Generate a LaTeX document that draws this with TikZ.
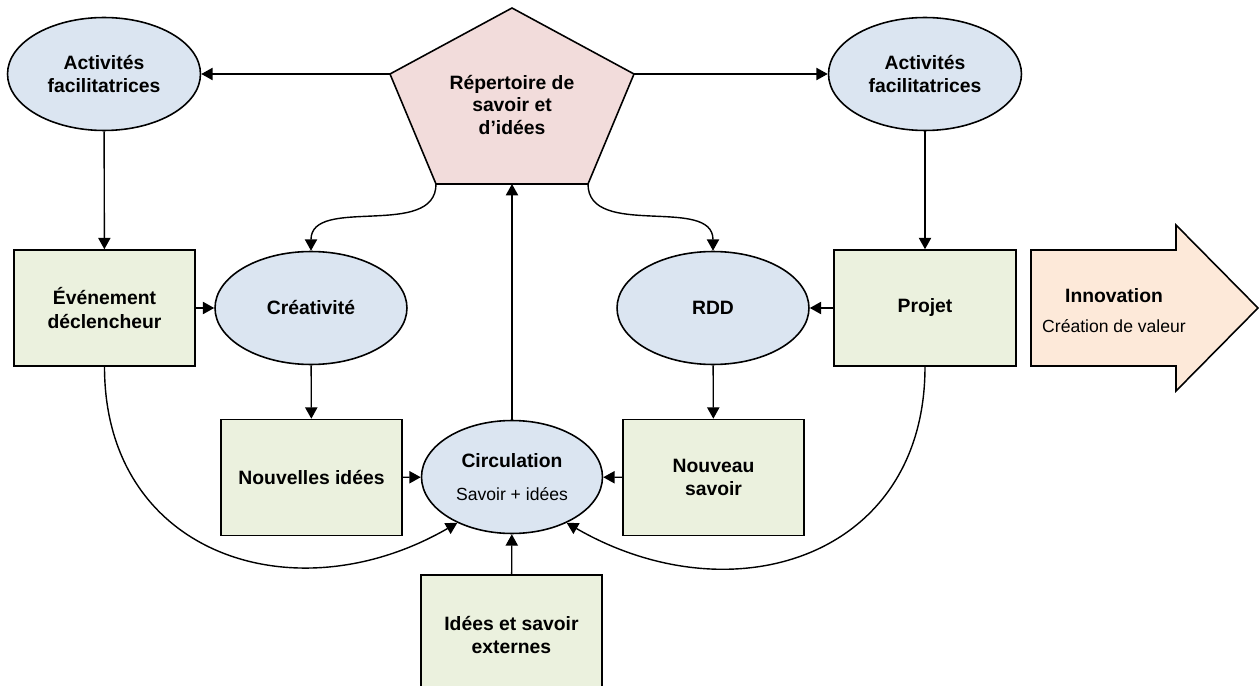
\documentclass[tikz,border=0pt]{standalone}
\usepackage{fontspec}
\setmainfont{Liberation Sans}
\usetikzlibrary{arrows.meta,shapes.geometric}

\definecolor{ovalColor}{RGB}{219,229,241}
\definecolor{blockColor}{RGB}{235,241,222}
\definecolor{repColor}{RGB}{242,220,219}
\definecolor{innovColor}{RGB}{253,233,217}

\tikzset{
  oval/.style={ellipse,draw,fill=ovalColor,line width=.9pt,minimum width=3.86cm,minimum height=2.26cm,
    align=center,font=\fontsize{11}{13.5}\selectfont\bfseries},
  block/.style={rectangle,draw,fill=blockColor,line width=.9pt,minimum width=3.62cm,minimum height=2.32cm,
    align=center,font=\fontsize{11}{13.5}\selectfont\bfseries},
  link/.style={-{Triangle[length=6.5pt,width=7pt]},line width=.8pt},
}

\begin{document}
\begin{tikzpicture}[x=0.02cm,y=-0.02cm]
  \useasboundingbox (0,0) rectangle (1259,686);
  \clip (0,0) rectangle (1259,686);
  % Repertoire
  \coordinate (repT) at (512,8);
  \coordinate (repL) at (390,74);
  \coordinate (repR) at (634,74);
  \coordinate (repBL) at (436,184);
  \coordinate (repBR) at (588,184);
  \coordinate (repB) at (512,184);
  \draw[fill=repColor,line width=.9pt] (repT) -- (repR) -- (repBR) -- (repBL) -- (repL) -- cycle;
  \node[align=center,font=\fontsize{11}{13}\selectfont\bfseries] (rep) at (512,105) {Répertoire de\\savoir et\\d’idées};
  % Ovals
  \node[oval] (act1) at (104,74) {Activités\\facilitatrices};
  \node[oval] (act2) at (925,74) {Activités\\facilitatrices};
  \node[oval,minimum width=3.84cm] (crea) at (311,308) {Créativité};
  \node[oval,minimum width=3.84cm] (rdd) at (713,308) {RDD};
  \node[oval,minimum width=3.62cm] (circ) at (512,477) {Circulation\\[5pt]{\mdseries\fontsize{10}{12}\selectfont Savoir + idées}};
  % Blocks
  \node[block] (evt) at (104.5,308) {Événement\\déclencheur};
  \node[block] (nouvId) at (311.5,477.5) {Nouvelles idées};
  \node[block] (nouvSav) at (713.5,477.5) {Nouveau\\savoir};
  \node[block,minimum width=3.64cm] (projet) at (925,308) {Projet};
  \node[block,minimum height=2.4cm] (ext) at (511.5,635) {Idées et savoir\\externes};
  % Innovation
  \draw[fill=innovColor,line width=.9pt] (1031,250) -- (1176,250) -- (1176,225) -- (1258,308)
    -- (1176,391) -- (1176,366) -- (1031,366) -- cycle;
  \node[align=center,font=\fontsize{10}{12}\selectfont] (innov) at (1114,311)
    {{\fontsize{11}{13}\selectfont\bfseries Innovation}\\[5pt]Création de valeur};
  % Links
  \draw[link] (repL) -- (act1);
  \draw[link] (repR) -- (act2);
  \draw[link] (act1) -- (evt);
  \draw[link] (act2) -- (projet);
  \draw[link] (evt) -- (crea);
  \draw[link] (projet) -- (rdd);
  \draw[link] (crea) -- (nouvId);
  \draw[link] (rdd) -- (nouvSav);
  \draw[link] (nouvId) -- (circ);
  \draw[link] (nouvSav) -- (circ);
  \draw[link] (ext) -- (circ);
  \draw[link] (circ) -- (repB);
  \draw[link] (repBL) to[out=-90,in=90] (crea.north);
  \draw[link] (repBR) to[out=-90,in=90] (rdd.north);
  \draw[link] (evt.south) to[out=-90,in=-150,looseness=1.25] (circ.-140);
  \draw[link] (projet.south) to[out=-90,in=-30,looseness=1.25] (circ.-40);
\end{tikzpicture}
\end{document}
